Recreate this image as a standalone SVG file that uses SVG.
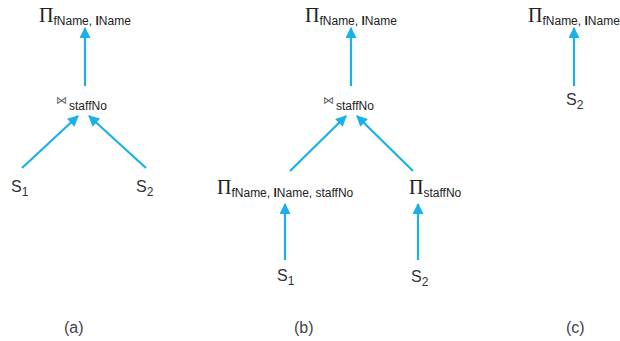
<svg xmlns="http://www.w3.org/2000/svg" width="620" height="341" viewBox="0 0 620 341">
<defs>
<marker id="ah" viewBox="0 0 10 10" refX="9" refY="5" markerWidth="5.5" markerHeight="5" orient="auto" markerUnits="strokeWidth">
<path d="M0,0 L10,5 L0,10 z" fill="#1ab0e8"/>
</marker>
<style>
.e{stroke:#1ab0e8;stroke-width:2.2;fill:none;marker-end:url(#ah)}
.pi{font-family:"Liberation Serif",serif;font-size:20px;fill:#222}
.sub{font-family:"Liberation Sans",Arial,sans-serif;font-size:12px;fill:#222}
.b{font-weight:bold}
.s{font-family:"Liberation Sans",Arial,sans-serif;font-size:16px;fill:#333}
.si{font-size:12px}
.j{font-family:"DejaVu Sans",sans-serif;font-size:11px;fill:#666}
.lab{font-family:"Liberation Sans",Arial,sans-serif;font-size:16px;fill:#444}
</style>
</defs>
<g id="connectors">
<line class="e" x1="85" y1="86" x2="85" y2="28"/>
<line class="e" x1="22" y1="168" x2="78" y2="116"/>
<line class="e" x1="146" y1="168" x2="89" y2="116"/>
<line class="e" x1="351" y1="86" x2="351" y2="28"/>
<line class="e" x1="290" y1="171" x2="346" y2="116"/>
<line class="e" x1="413" y1="171" x2="357" y2="116"/>
<line class="e" x1="285" y1="260" x2="285" y2="204"/>
<line class="e" x1="418" y1="260" x2="418" y2="204"/>
<line class="e" x1="574" y1="86" x2="574" y2="28"/>
</g>
<g id="a-proj"><text x="39" y="22" class="pi">Π<tspan class="sub" dy="3">fName, <tspan class="b">l</tspan>Name</tspan></text></g>
<g id="a-join"><text x="56" y="104" class="j">⋈<tspan class="sub" dx="2" dy="6">staffNo</tspan></text></g>
<g id="a-s1"><text x="11" y="192" class="s">S<tspan class="si" dy="4">1</tspan></text></g>
<g id="a-s2"><text x="136" y="192" class="s">S<tspan class="si" dy="4">2</tspan></text></g>
<g id="b-proj"><text x="305" y="22" class="pi">Π<tspan class="sub" dy="3">fName, <tspan class="b">l</tspan>Name</tspan></text></g>
<g id="b-join"><text x="323" y="104" class="j">⋈<tspan class="sub" dx="2" dy="6">staffNo</tspan></text></g>
<g id="b-proj1"><text x="217" y="194" class="pi">Π<tspan class="sub" dy="3">fName, <tspan class="b">l</tspan>Name, staffNo</tspan></text></g>
<g id="b-proj2"><text x="409" y="194" class="pi">Π<tspan class="sub" dy="3">staffNo</tspan></text></g>
<g id="b-s1"><text x="277" y="281" class="s">S<tspan class="si" dy="4">1</tspan></text></g>
<g id="b-s2"><text x="411" y="282" class="s">S<tspan class="si" dy="4">2</tspan></text></g>
<g id="c-proj"><text x="528" y="22" class="pi">Π<tspan class="sub" dy="3">fName, <tspan class="b">l</tspan>Name</tspan></text></g>
<g id="c-s2"><text x="566" y="105" class="s">S<tspan class="si" dy="4">2</tspan></text></g>
<g id="labels">
<text x="64" y="333" class="lab">(a)</text>
<text x="294" y="333" class="lab">(b)</text>
<text x="566" y="333" class="lab">(c)</text>
</g>
</svg>
